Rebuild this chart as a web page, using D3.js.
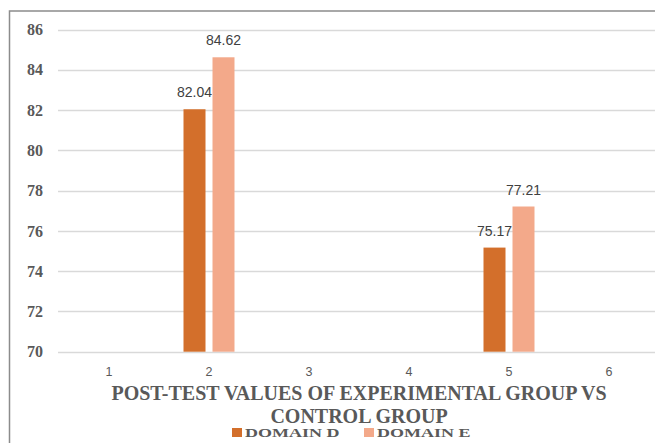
<!DOCTYPE html>
<html>
<head>
<meta charset="utf-8">
<script src="https://cdn.jsdelivr.net/npm/d3@7"></script>
<style>
  html, body { margin: 0; padding: 0; background: #fff; }
  svg { display: block; }
</style>
</head>
<body>
<svg id="chart" width="655" height="443"></svg>
<script>
const categories = ["1", "2", "3", "4", "5", "6"];
const domainD = [null, 82.04, null, null, 75.17, null];
const domainE = [null, 84.62, null, null, 77.21, null];
const yTicks = [70, 72, 74, 76, 78, 80, 82, 84, 86];
const seriesNames = ["DOMAIN D", "DOMAIN E"];
const seriesColors = ["#D36F2B", "#F3A98A"];
const titleLines = ["POST-TEST VALUES OF EXPERIMENTAL GROUP VS", "CONTROL GROUP"];

const svg = d3.select("#chart");
const W = 655, H = 443;

// outer border
svg.append("rect").attr("x", 9.5).attr("y", 11).attr("width", W + 20).attr("height", H + 20)
  .attr("fill", "#fff").attr("stroke", "#8c8c8c").attr("stroke-width", 1.5);

const x = d3.scaleBand().domain(categories).range([59, 659]).padding(0);
const y = d3.scaleLinear().domain([70, 86]).range([351.7, 29.5]);

// gridlines
svg.append("g").selectAll("line").data(yTicks).join("line")
  .attr("x1", 58).attr("x2", W)
  .attr("y1", d => Math.round(y(d)) + 0.5).attr("y2", d => Math.round(y(d)) + 0.5)
  .attr("stroke", "#d9d9d9").attr("stroke-width", 1.3);

// y axis labels
const yAxis = d3.axisLeft(y).tickValues(yTicks).tickSize(0).tickPadding(0).tickFormat(d3.format("d"));
const gy = svg.append("g").attr("transform", "translate(43,0)").call(yAxis);
gy.select(".domain").remove();
gy.selectAll("text").attr("font-family", "'Liberation Serif', 'Times New Roman', serif")
  .attr("font-weight", "bold").attr("font-size", 16).attr("fill", "#595959");

// x axis labels
const xAxis = d3.axisBottom(x).tickSize(0).tickPadding(0);
const gx = svg.append("g").attr("transform", "translate(0,367)").call(xAxis);
gx.select(".domain").remove();
gx.selectAll("text").attr("font-family", "'Liberation Sans', Arial, sans-serif")
  .attr("font-size", 12.5).attr("fill", "#595959");

// bars
const barW = 22, gap = 7;
const series = [domainD, domainE];
series.forEach((vals, si) => {
  const data = categories.map((c, i) => ({ c, v: vals[i] })).filter(d => d.v != null);
  const offset = si === 0 ? -(barW + gap / 2) : gap / 2;
  const g = svg.append("g");
  g.selectAll("rect").data(data).join("rect")
    .attr("x", d => x(d.c) + x.bandwidth() / 2 + offset)
    .attr("width", barW)
    .attr("y", d => y(d.v))
    .attr("height", d => y(70) - y(d.v))
    .attr("fill", seriesColors[si]);
  g.selectAll("text").data(data).join("text")
    .attr("x", d => x(d.c) + x.bandwidth() / 2 + offset + barW / 2)
    .attr("y", d => y(d.v) - 12)
    .attr("text-anchor", "middle")
    .attr("font-family", "'Liberation Sans', Arial, sans-serif")
    .attr("font-size", 14).attr("fill", "#404040")
    .text(d => d.v.toFixed(2));
});

// title
const title = svg.append("g");
title.selectAll("text").data(titleLines).join("text")
  .attr("x", 359).attr("y", (d, i) => 400 + i * 23)
  .attr("text-anchor", "middle")
  .attr("font-family", "'Liberation Serif', 'Times New Roman', serif")
  .attr("font-weight", "bold").attr("font-size", 20).attr("fill", "#595959")
  .text(d => d);

// legend
const legendX = [232, 364];
const leg = svg.append("g");
seriesNames.forEach((name, i) => {
  leg.append("rect").attr("x", legendX[i]).attr("y", 428).attr("width", 10).attr("height", 9)
    .attr("fill", seriesColors[i]);
  leg.append("text")
    .attr("transform", `translate(${legendX[i] + 13},437) scale(1,0.74)`)
    .attr("font-family", "'Liberation Serif', 'Times New Roman', serif")
    .attr("font-weight", "bold").attr("font-size", 18).attr("fill", "#595959")
    .text(name);
});
</script>
</body>
</html>
